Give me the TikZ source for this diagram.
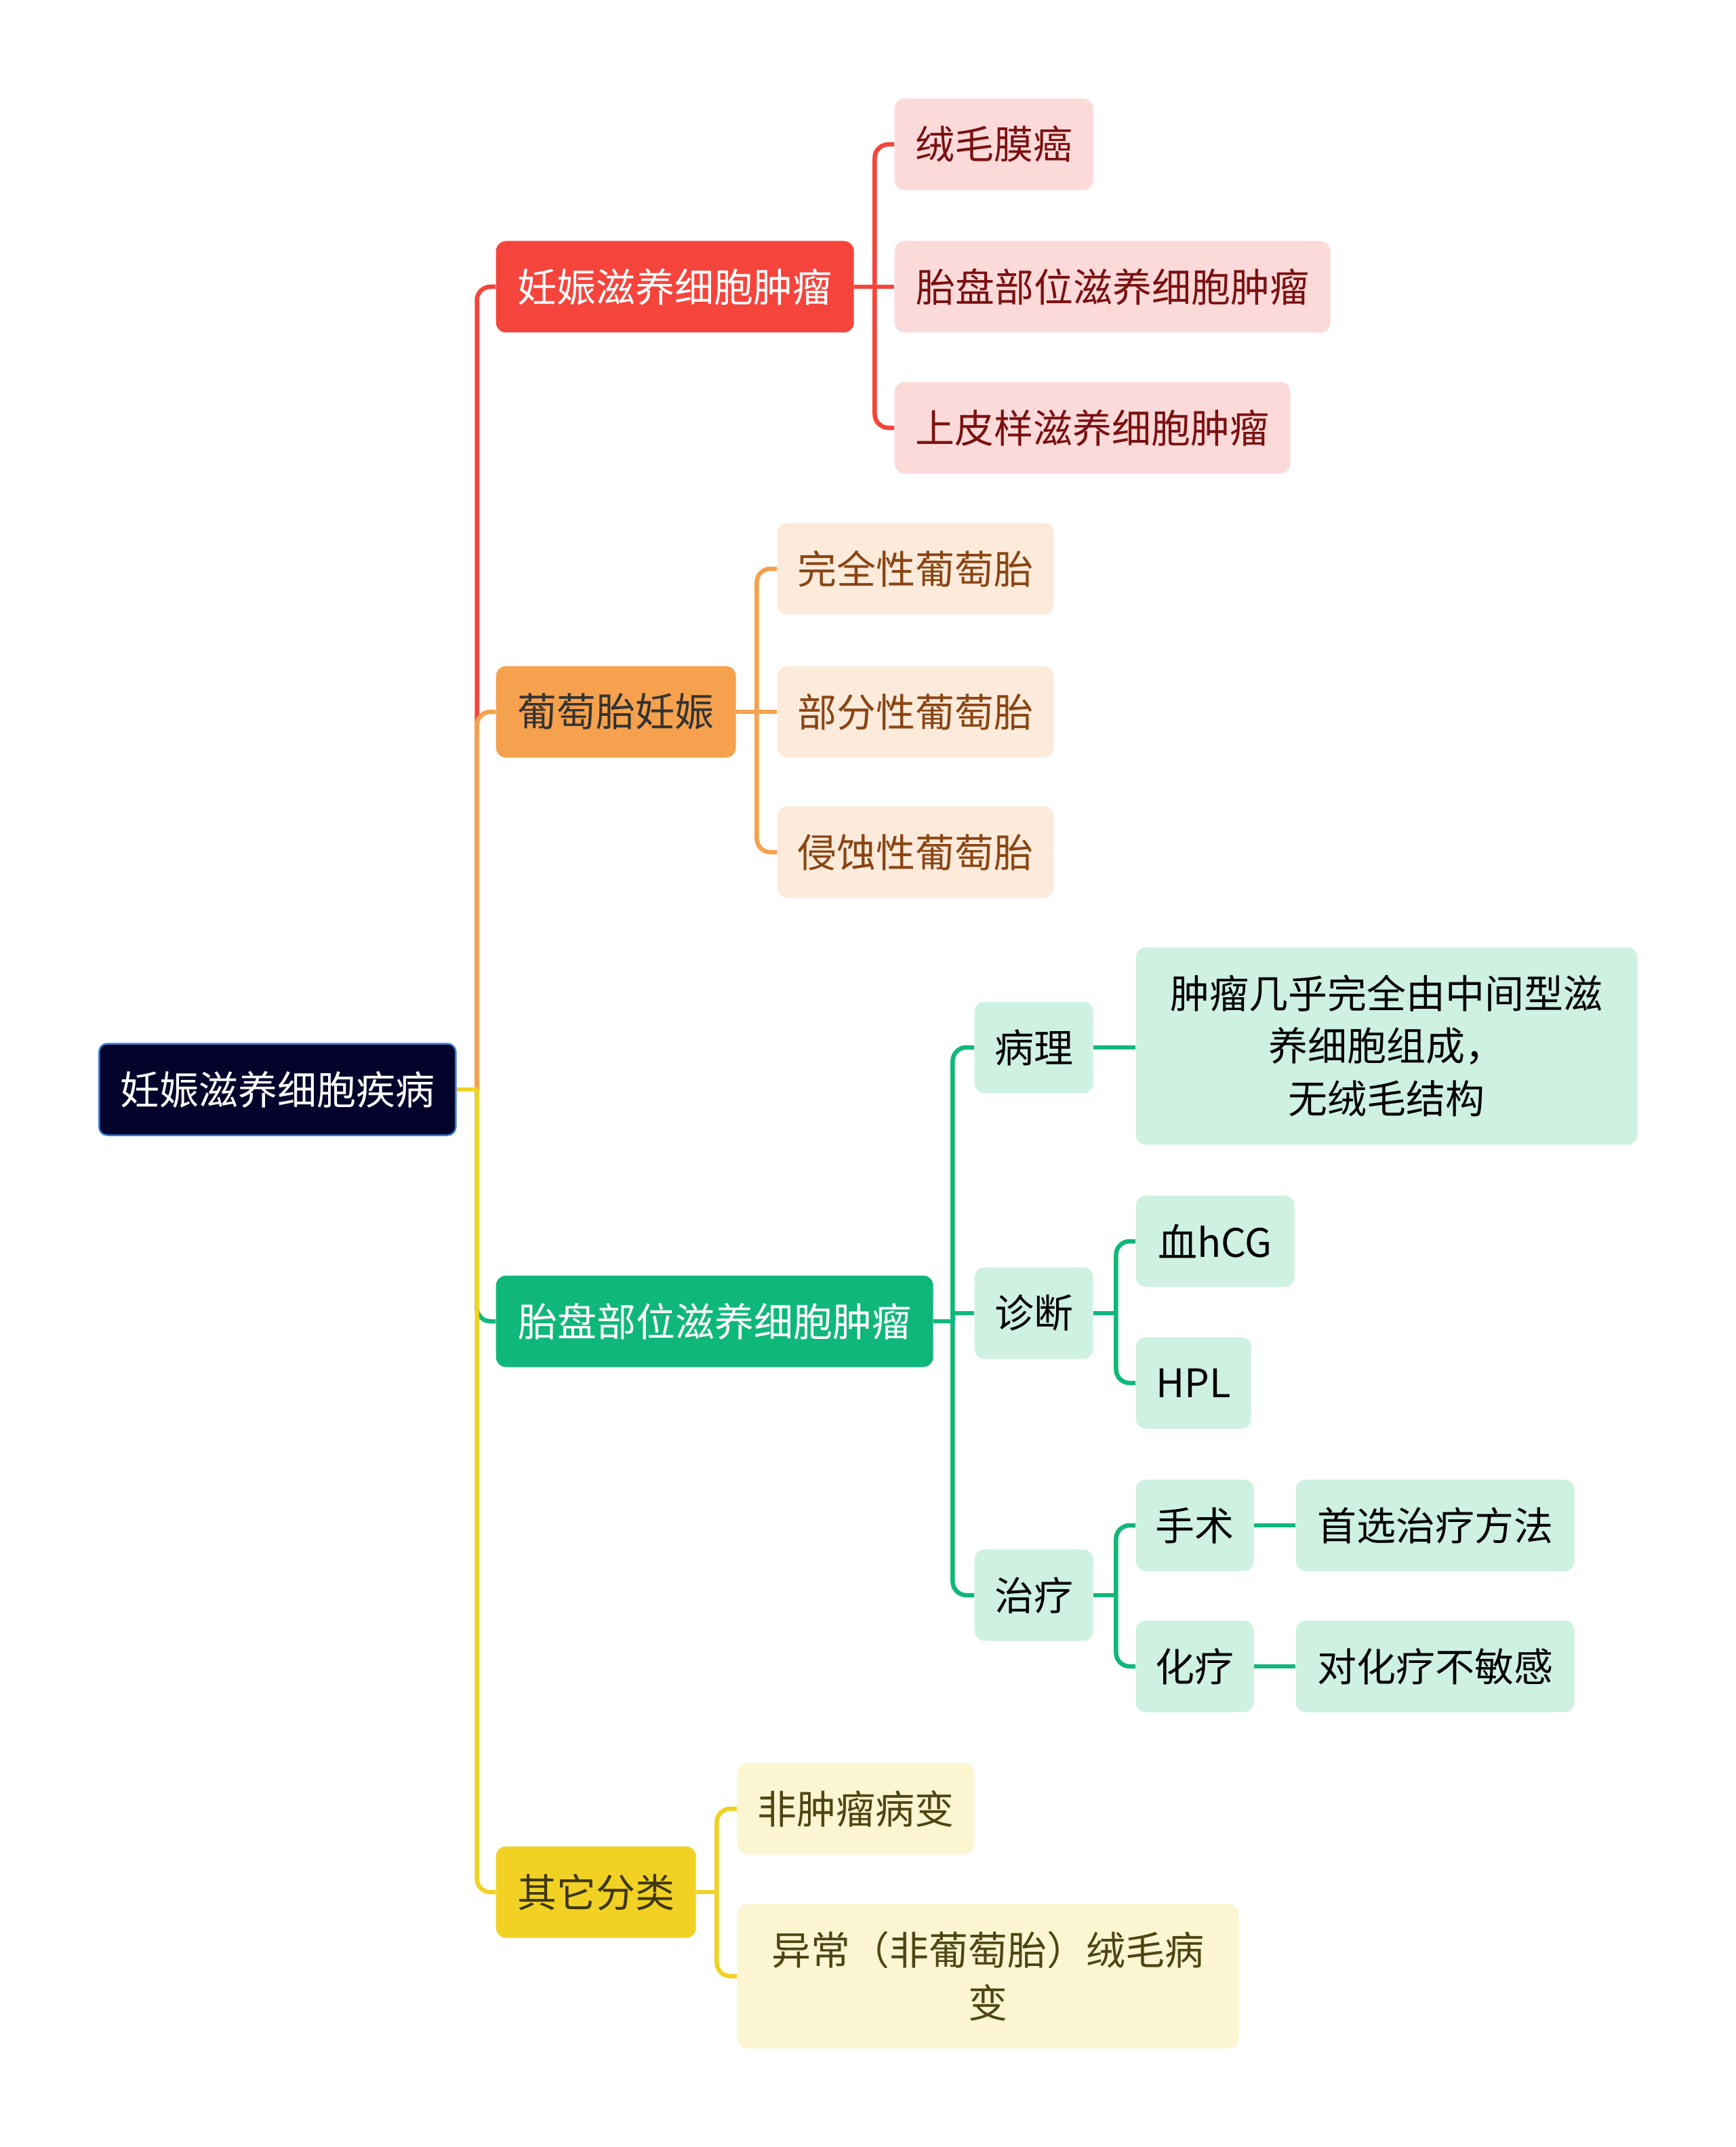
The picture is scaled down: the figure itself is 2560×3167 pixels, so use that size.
\documentclass[tikz,border=0pt]{standalone}
\usepackage{fontspec}
\setmainfont{Noto Sans CJK SC}
\usepackage{xcolor}
\usepackage{tikz}
\usetikzlibrary{positioning, calc}

\definecolor{cNavy}{HTML}{03032B}
\definecolor{cRootEdge}{HTML}{3A7BD5}
\definecolor{cRed}{HTML}{F5443C}
\definecolor{cRedLight}{HTML}{FDDADA}
\definecolor{cRedText}{HTML}{7B1010}
\definecolor{cOrange}{HTML}{F5A14D}
\definecolor{cOrangeLight}{HTML}{FCEADB}
\definecolor{cOrangeText}{HTML}{8A4513}
\definecolor{cGreen}{HTML}{10B77A}
\definecolor{cGreenLight}{HTML}{CEF1E2}
\definecolor{cYellow}{HTML}{F1D224}
\definecolor{cYellowLight}{HTML}{FCF5D2}
\definecolor{cYellowText}{HTML}{4F4512}

\begin{document}
\begin{tikzpicture}[x=0.1mm, y=-0.1mm,
        box/.style={rounded corners=1.5mm, inner sep=0pt, minimum height=13.5mm,
          anchor=west, align=center, font=\fontsize{16.5pt}{22pt}\selectfont},
        rootbox/.style={box, rounded corners=1.2mm, fill=cNavy, draw=cRootEdge, line width=0.25mm, text=white},
        redmain/.style={box, fill=cRed, text=white},
        redsub/.style={box, fill=cRedLight, text=cRedText},
        orangemain/.style={box, fill=cOrange, text=black!80},
        orangesub/.style={box, fill=cOrangeLight, text=cOrangeText},
        greenmain/.style={box, fill=cGreen, text=white},
        greensub/.style={box, fill=cGreenLight, text=black},
        yellowmain/.style={box, fill=cYellow, text=cYellowText!80!black},
        yellowsub/.style={box, fill=cYellowLight, text=cYellowText},
        link/.style={line width=0.65mm, rounded corners=2mm},
        redlink/.style={link, draw=cRed},
        orangelink/.style={link, draw=cOrange},
        greenlink/.style={link, draw=cGreen},
        yellowlink/.style={link, draw=cYellow}]
        \useasboundingbox (0,0) rectangle (2560,3167);

        % root and first level
        \node[rootbox, minimum width=52.6mm] (root) at (145,1607) {妊娠滋养细胞疾病};
        \node[redmain, minimum width=52.8mm] (gtn) at (731,423) {妊娠滋养细胞肿瘤};
        \node[orangemain, minimum width=35.4mm] (mole) at (731,1050) {葡萄胎妊娠};
        \node[greenmain, minimum width=64.5mm] (psttm) at (731,1949) {胎盘部位滋养细胞肿瘤};
        \node[yellowmain, minimum width=29.5mm] (other) at (731,2791) {其它分类};

        % red branch
        \node[redsub, minimum width=29.3mm] (chorio) at (1319,213) {绒毛膜癌};
        \node[redsub, minimum width=64.3mm] (pstt) at (1319,423) {胎盘部位滋养细胞肿瘤};
        \node[redsub, minimum width=58.4mm] (ett) at (1319,631) {上皮样滋养细胞肿瘤};

        % orange branch
        \node[orangesub, minimum width=40.8mm] (complete) at (1146,839) {完全性葡萄胎};
        \node[orangesub, minimum width=40.8mm] (partial) at (1146,1050) {部分性葡萄胎};
        \node[orangesub, minimum width=40.8mm] (invasive) at (1146,1257) {侵蚀性葡萄胎};

        % green branch
        \node[greensub, minimum width=17.5mm] (patho) at (1437,1545) {病理};
        \node[greensub, minimum width=74mm, minimum height=29.1mm] (pathodesc) at (1675,1543)
          {肿瘤几乎完全由中间型滋\\养细胞组成，\\无绒毛结构};
        \node[greensub, minimum width=17.5mm] (diag) at (1437,1937) {诊断};
        \node[greensub, minimum width=23.4mm] (hcg) at (1675,1831) {血hCG};
        \node[greensub, minimum width=17mm] (hpl) at (1675,2040) {HPL};
        \node[greensub, minimum width=17.5mm] (treat) at (1437,2353) {治疗};
        \node[greensub, minimum width=17.4mm] (surgery) at (1675,2250) {手术};
        \node[greensub, minimum width=41.1mm] (firstchoice) at (1911,2250) {首选治疗方法};
        \node[greensub, minimum width=17.4mm] (chemo) at (1675,2458) {化疗};
        \node[greensub, minimum width=41.1mm] (insensitive) at (1911,2458) {对化疗不敏感};

        % yellow branch
        \node[yellowsub, minimum width=35mm] (nontumor) at (1087,2668) {非肿瘤病变};
        \node[yellowsub, minimum width=74mm, minimum height=21.3mm] (abnormal) at (1087,2915)
          {异常（非葡萄胎）绒毛病\\变};

        % forks
        \coordinate (rootfork) at ($(root.east)+(30,0)$);
        \coordinate (gtnfork) at ($(gtn.east)+(30,0)$);
        \coordinate (molefork) at ($(mole.east)+(30,0)$);
        \coordinate (psttfork) at ($(psttm.east)+(28,0)$);
        \coordinate (diagfork) at ($(diag.east)+(33,0)$);
        \coordinate (treatfork) at ($(treat.east)+(33,0)$);
        \coordinate (otherfork) at ($(other.east)+(30,0)$);

        % connectors from root
        \draw[redlink] (rootfork) |- (gtn.west);
        \draw[orangelink] (rootfork) |- (mole.west);
        \draw[greenlink] (rootfork) |- (psttm.west);
        \draw[yellowlink] (rootfork) |- (other.west);
        \draw[yellowlink] (root.east) -- (rootfork);

        \draw[redlink] (gtn.east) -- (gtnfork);
        \draw[redlink] (gtnfork) |- (chorio.west);
        \draw[redlink] (gtn.east) -- (pstt.west);
        \draw[redlink] (gtnfork) |- (ett.west);

        \draw[orangelink] (mole.east) -- (molefork);
        \draw[orangelink] (molefork) |- (complete.west);
        \draw[orangelink] (mole.east) -- (partial.west);
        \draw[orangelink] (molefork) |- (invasive.west);

        \draw[greenlink] (psttm.east) -- (psttfork);
        \draw[greenlink] (psttfork) |- (patho.west);
        \draw[greenlink, sharp corners] (psttfork) |- (diag.west);
        \draw[greenlink] (psttfork) |- (treat.west);
        \draw[greenlink] (patho.east) -- (pathodesc.west |- patho.east);

        \draw[greenlink] (diag.east) -- (diagfork);
        \draw[greenlink] (diagfork) |- (hcg.west);
        \draw[greenlink] (diagfork) |- (hpl.west);
        \draw[greenlink] (treat.east) -- (treatfork);
        \draw[greenlink] (treatfork) |- (surgery.west);
        \draw[greenlink] (treatfork) |- (chemo.west);
        \draw[greenlink] (surgery.east) -- (firstchoice.west);
        \draw[greenlink] (chemo.east) -- (insensitive.west);

        \draw[yellowlink] (other.east) -- (otherfork);
        \draw[yellowlink] (otherfork) |- (nontumor.west);
        \draw[yellowlink] (otherfork) |- (abnormal.west);
      \end{tikzpicture}
\end{document}
